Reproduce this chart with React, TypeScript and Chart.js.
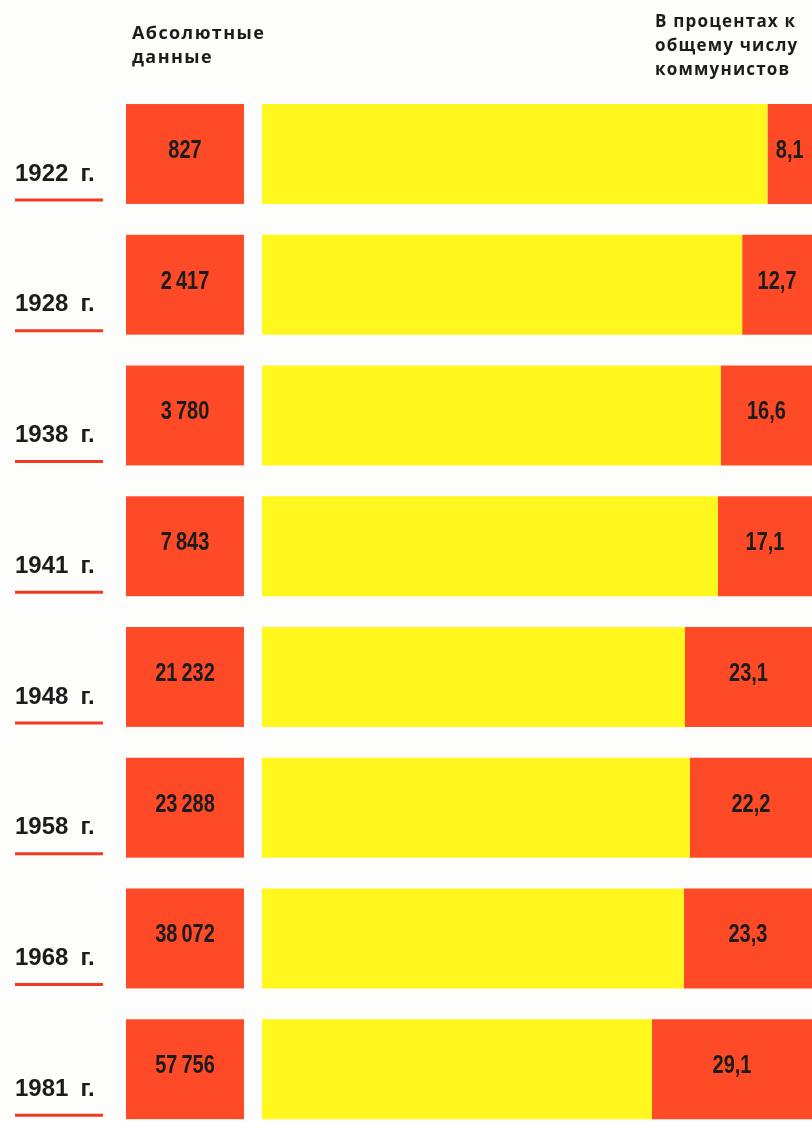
import React, { useEffect, useRef } from "react";
import { Chart, registerables } from "chart.js";

Chart.register(...registerables);

const years = ["1922", "1928", "1938", "1941", "1948", "1958", "1968", "1981"];
const absoluteValues = [827, 2417, 3780, 7843, 21232, 23288, 38072, 57756];
const percentValues = [8.1, 12.7, 16.6, 17.1, 23.1, 22.2, 23.3, 29.1];
const restValues = percentValues.map((p) => +(100 - p).toFixed(1));

const RED = "#ff4a28";
const YELLOW = "#fff71e";
const INK = "#1c1c1c";
const BG = "#fdfdfb";

const fmtAbs = (n: number) => String(n).replace(/\B(?=(\d{3})+(?!\d))/g, "\u2009");
const fmtPct = (p: number) => p.toFixed(1).replace(".", ",");

const VAL_FONT = "bold 25px 'Liberation Sans', sans-serif";
const SQUEEZE = 0.8;

function condensedText(ctx: CanvasRenderingContext2D, text: string, x: number, y: number) {
  ctx.save();
  ctx.translate(x, y);
  ctx.scale(SQUEEZE, 1);
  ctx.fillText(text, 0, 0);
  ctx.restore();
}

const decorPlugin = {
  id: "decor",
  beforeDatasetsDraw(chart: any) {
    const ctx = chart.ctx;
    const yScale = chart.scales.y;
    const meta = chart.getDatasetMeta(0);
    ctx.save();
    years.forEach((_, i) => {
      const el = meta.data[i];
      const y = yScale.getPixelForValue(i);
      const h = el ? el.height : 100;
      // absolute value box
      ctx.fillStyle = RED;
      ctx.fillRect(126, y - h / 2, 118, h);
      ctx.fillStyle = INK;
      ctx.font = VAL_FONT;
      ctx.textAlign = "center";
      ctx.textBaseline = "middle";
      condensedText(ctx, fmtAbs(absoluteValues[i]), 185, y - 3);
      // underline below year label
      ctx.strokeStyle = "#f03a22";
      ctx.lineWidth = 3;
      ctx.beginPath();
      ctx.moveTo(15, y + 46);
      ctx.lineTo(103, y + 46);
      ctx.stroke();
    });
    ctx.restore();
  },
  afterDatasetsDraw(chart: any) {
    const ctx = chart.ctx;
    const meta = chart.getDatasetMeta(1);
    const right = chart.chartArea.right;
    ctx.save();
    ctx.fillStyle = INK;
    ctx.font = VAL_FONT;
    ctx.textAlign = "center";
    ctx.textBaseline = "middle";
    meta.data.forEach((el: any, i: number) => {
      const x0 = Math.min(el.base, el.x);
      const x1 = Math.min(Math.max(el.base, el.x), right);
      condensedText(ctx, fmtPct(percentValues[i]), (x0 + x1) / 2, el.y - 3);
    });
    ctx.restore();
  },
};

export default function App() {
  const ref = useRef<HTMLCanvasElement | null>(null);

  useEffect(() => {
    if (!ref.current) return;
    const chart = new Chart(ref.current, {
      type: "bar",
      data: {
        labels: years,
        datasets: [
          {
            label: "Прочие",
            data: restValues,
            backgroundColor: YELLOW,
            borderWidth: 0,
            barPercentage: 0.764,
            categoryPercentage: 1,
          },
          {
            label: "В процентах к общему числу коммунистов",
            data: percentValues,
            backgroundColor: RED,
            borderWidth: 0,
            barPercentage: 0.764,
            categoryPercentage: 1,
          },
        ],
      },
      options: {
        indexAxis: "y",
        responsive: false,
        animation: false,
        layout: { padding: { top: 88.6, left: 15, right: 0, bottom: 0 } },
        plugins: {
          legend: { display: false },
          tooltip: { enabled: false },
        },
        scales: {
          x: {
            stacked: true,
            min: 0,
            max: 100,
            display: false,
          },
          y: {
            stacked: true,
            grid: { display: false },
            border: { display: false },
            afterFit: (scale: any) => {
              scale.width = 247;
            },
            ticks: {
              crossAlign: "far",
              labelOffset: 20,
              color: INK,
              font: { family: "'Liberation Sans', sans-serif", size: 24, weight: "bold" },
              callback: (_v: any, i: number) => `${years[i]}\u2002г.`,
            },
          },
        },
      },
      plugins: [decorPlugin],
    } as any);
    return () => chart.destroy();
  }, []);

  const headStyle: React.CSSProperties = {
    position: "absolute",
    fontFamily: "'Open Sans', sans-serif",
    fontWeight: 700,
    fontSize: 17,
    lineHeight: "24px",
    letterSpacing: "1.2px",
    color: INK,
    whiteSpace: "nowrap",
  };

  return (
    <div
      style={{
        position: "absolute",
        left: 0,
        top: 0,
        width: 812,
        height: 1121,
        overflow: "hidden",
        background: BG,
      }}
    >
      <canvas ref={ref} width={812} height={1152} style={{ display: "block" }} />
      <div style={{ ...headStyle, left: 132, top: 20, fontSize: 18, letterSpacing: "1.4px" }}>
        Абсолютные
        <br />
        данные
      </div>
      <div style={{ ...headStyle, left: 655, top: 9 }}>
        В процентах к
        <br />
        общему числу
        <br />
        коммунистов
      </div>
    </div>
  );
}
